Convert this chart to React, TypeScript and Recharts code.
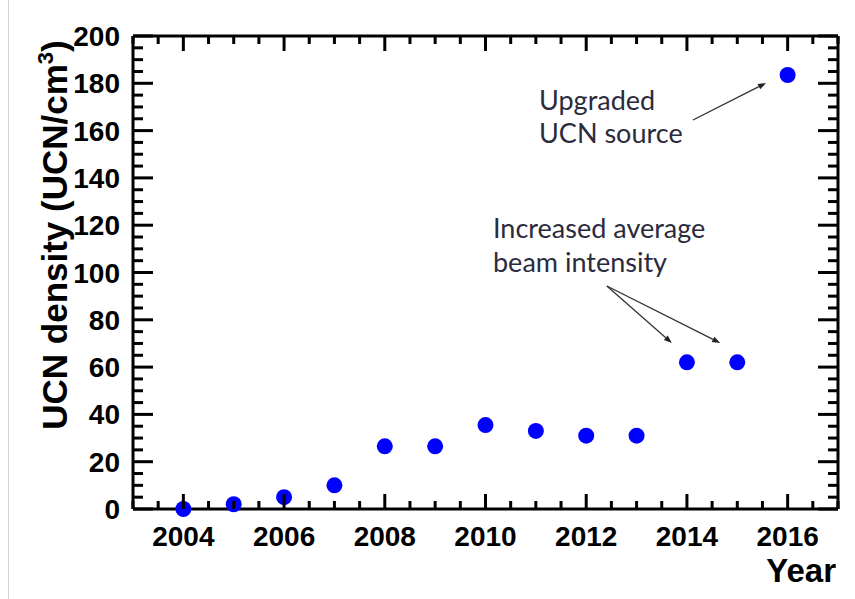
import { ScatterChart, Scatter, XAxis, YAxis, ReferenceLine } from 'recharts';

const years = [2004, 2005, 2006, 2007, 2008, 2009, 2010, 2011, 2012, 2013, 2014, 2015, 2016];
const density = [0, 2, 5, 10, 26.5, 26.5, 35.5, 33, 31, 31, 62, 62, 183.5];

const xMajorTicks = [2004, 2006, 2008, 2010, 2012, 2014, 2016];
const yMajorTicks = [0, 20, 40, 60, 80, 100, 120, 140, 160, 180, 200];

const X_DOMAIN = [2003, 2017];
const Y_DOMAIN = [0, 200];

// minor ticks: every half year on x, every 5 on y
const xTicks: number[] = [];
for (let v = X_DOMAIN[0]; v <= X_DOMAIN[1]; v += 0.5) xTicks.push(v);
const yTicks: number[] = [];
for (let v = Y_DOMAIN[0]; v <= Y_DOMAIN[1]; v += 5) yTicks.push(v);

const data = years.map((year, i) => ({ year, density: density[i] }));

const W = 855;
const H = 599;
const MARGIN = { top: 36, right: 17, bottom: 0, left: 0 };
const Y_AXIS_W = 133;
const X_AXIS_H = 90;
const PLOT_W = W - MARGIN.right - Y_AXIS_W;
const PLOT_H = H - MARGIN.top - X_AXIS_H;

const AXIS_FONT = '"Liberation Sans", Arial, Helvetica, sans-serif';
const NOTE_FONT = 'Lato, "Open Sans", sans-serif';
const NOTE_COLOR = '#2b2b3e';

function XTick({ x, y, payload }: any) {
  const v = payload.value;
  const major = xMajorTicks.includes(v);
  const len = major ? 15 : 8;
  return (
    <g>
      <line x1={x} y1={y} x2={x} y2={y - len} stroke="#000" strokeWidth={3} />
      <line x1={x} y1={y - PLOT_H} x2={x} y2={y - PLOT_H + len} stroke="#000" strokeWidth={3} />
      {major && (
        <text x={x} y={y + 37} textAnchor="middle" fontFamily={AXIS_FONT} fontWeight="bold" fontSize={28} fill="#000">
          {v}
        </text>
      )}
    </g>
  );
}

function YTick({ x, y, payload }: any) {
  const v = payload.value;
  const major = yMajorTicks.includes(v);
  const len = major ? 20 : 10;
  return (
    <g>
      <line x1={x} y1={y} x2={x + len} y2={y} stroke="#000" strokeWidth={3} />
      <line x1={x + PLOT_W} y1={y} x2={x + PLOT_W - len} y2={y} stroke="#000" strokeWidth={3} />
      {major && (
        <text x={x - 13} y={y} dy="0.36em" textAnchor="end" fontFamily={AXIS_FONT} fontWeight="bold" fontSize={28} fill="#000">
          {v}
        </text>
      )}
    </g>
  );
}

function Arrow(props: any) {
  const { x1, y1, x2, y2 } = props;
  const ang = Math.atan2(y2 - y1, x2 - x1);
  const L = 8;
  const Wd = 3;
  const bx = x2 - L * Math.cos(ang);
  const by = y2 - L * Math.sin(ang);
  const px = -Math.sin(ang) * Wd;
  const py = Math.cos(ang) * Wd;
  return (
    <g>
      <line x1={x1} y1={y1} x2={bx} y2={by} stroke="#333" strokeWidth={1.3} />
      <polygon points={`${x2},${y2} ${bx + px},${by + py} ${bx - px},${by - py}`} fill="#222" />
    </g>
  );
}

function Dot({ cx, cy }: any) {
  return <circle cx={cx} cy={cy} r={8} fill="#0000ff" />;
}

const upgradeArrow = [
  { x: 2014.12, y: 164.5 },
  { x: 2015.57, y: 180.1 },
];
const beamArrowA = [
  { x: 2012.41, y: 94.3 },
  { x: 2013.7, y: 70.2 },
];
const beamArrowB = [
  { x: 2012.41, y: 94.3 },
  { x: 2014.66, y: 70.2 },
];

export default function App() {
  return (
    <div style={{ position: 'absolute', left: 0, top: 0, width: W, height: H, background: '#fff' }}>
      <div style={{ position: 'absolute', left: 8, top: 0, width: 1, height: H, background: '#d4d4d4' }} />
      <ScatterChart width={W} height={H} margin={MARGIN}>
        <XAxis
          dataKey="year"
          type="number"
          domain={X_DOMAIN}
          ticks={xTicks}
          interval={0}
          axisLine={false}
          tickLine={false}
          tickSize={0}
          tickMargin={0}
          height={X_AXIS_H}
          tick={<XTick />}
        />
        <YAxis
          dataKey="density"
          type="number"
          domain={Y_DOMAIN}
          ticks={yTicks}
          interval={0}
          axisLine={false}
          tickLine={false}
          tickSize={0}
          tickMargin={0}
          width={Y_AXIS_W}
          tick={<YTick />}
        />
        <ReferenceLine x={X_DOMAIN[0]} stroke="#000" strokeWidth={3} />
        <ReferenceLine x={X_DOMAIN[1]} stroke="#000" strokeWidth={3} />
        <ReferenceLine y={Y_DOMAIN[0]} stroke="#000" strokeWidth={3} />
        <ReferenceLine y={Y_DOMAIN[1]} stroke="#000" strokeWidth={3} />
        <ReferenceLine segment={upgradeArrow} shape={<Arrow />} />
        <ReferenceLine segment={beamArrowA} shape={<Arrow />} />
        <ReferenceLine segment={beamArrowB} shape={<Arrow />} />
        <Scatter data={data} shape={<Dot />} isAnimationActive={false} />
        <text x={67} y={235} transform="rotate(-90 67 235)" textAnchor="middle" fontFamily={AXIS_FONT} fontWeight="bold" fontSize={35} fill="#000">
          UCN density (UCN/cm
          <tspan fontSize={22} dy={-14}>3</tspan>
          <tspan dy={14}>)</tspan>
        </text>
        <text x={836} y={582} textAnchor="end" fontFamily={AXIS_FONT} fontWeight="bold" fontSize={33} fill="#000">
          Year
        </text>
        <text x={539} y={110} fontFamily={NOTE_FONT} fontSize={27} fill={NOTE_COLOR}>Upgraded</text>
        <text x={539} y={143} fontFamily={NOTE_FONT} fontSize={27} fill={NOTE_COLOR}>UCN source</text>
        <text x={493} y={238} fontFamily={NOTE_FONT} fontSize={27} fill={NOTE_COLOR}>Increased average</text>
        <text x={493} y={272} fontFamily={NOTE_FONT} fontSize={27} fill={NOTE_COLOR}>beam intensity</text>
      </ScatterChart>
    </div>
  );
}
